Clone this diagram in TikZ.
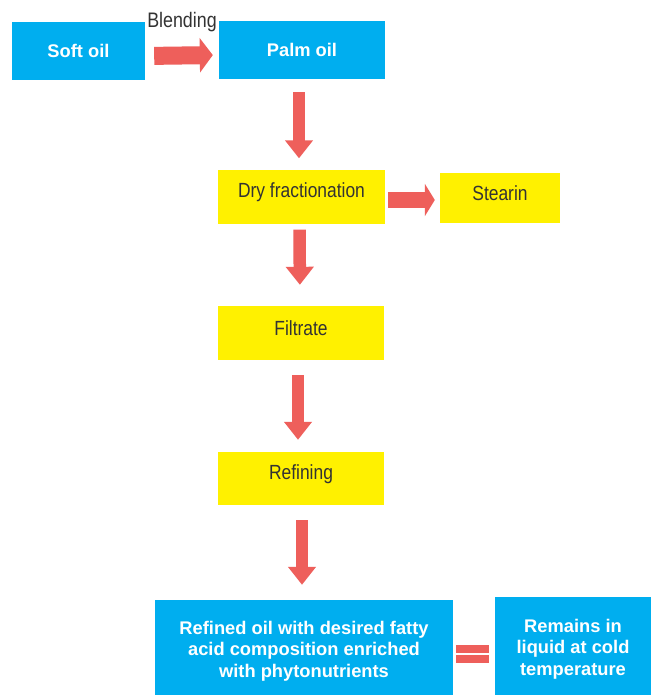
\documentclass[tikz,border=0pt]{standalone}
\usepackage{fontspec}
\setmainfont{Liberation Sans}
\newfontfamily\narrow[FakeStretch=0.85]{Liberation Sans}
\usetikzlibrary{arrows.meta}
\definecolor{boxblue}{HTML}{00AEEF}
\definecolor{boxyellow}{HTML}{FFF100}
\definecolor{arrowred}{HTML}{EE5F5B}
\definecolor{textgray}{HTML}{333333}
\newcommand{\uptext}[1]{\raisebox{4.5pt}[\height][\depth]{#1}}
\tikzset{
  bluebox/.style={fill=boxblue, draw=none, inner sep=0pt, text=white, font=\fontsize{18.3}{21.5}\selectfont\bfseries, align=center},
  yellowbox/.style={fill=boxyellow, draw=none, inner sep=0pt, text=textgray, font=\narrow\fontsize{20.5}{22}\selectfont},
  fatv/.style={draw=arrowred, line width=12.5pt, -{Triangle[length=18pt,width=27pt,fill=arrowred]}},
  fath/.style={draw=arrowred, line width=16pt, -{Triangle[length=10pt,width=32pt,fill=arrowred]}},
  fatb/.style={draw=arrowred, line width=18pt, -{Triangle[length=13pt,width=34pt,fill=arrowred]}},
}
\begin{document}
\begin{tikzpicture}[x=1pt,y=-1pt]
\useasboundingbox (0,0) rectangle (651,695);
\fill[white] (0,0) rectangle (651,695);
% boxes
\node[bluebox, minimum width=133pt, minimum height=58pt] (soft) at (78.5,51) {Soft oil};
\node[bluebox, minimum width=166pt, minimum height=58pt] (palm) at (302,50) {Palm oil};
\node[yellowbox, minimum width=167pt, minimum height=54pt] (dry) at (301.5,196.5) {\uptext{Dry fractionation}};
\node[yellowbox, minimum width=120pt, minimum height=50pt] (stearin) at (500,198) {\uptext{Stearin}};
\node[yellowbox, minimum width=166pt, minimum height=54pt] (filtrate) at (301,333) {\uptext{Filtrate}};
\node[yellowbox, minimum width=166pt, minimum height=53pt] (refining) at (301,478.5) {\uptext{Refining}};
\node[bluebox, minimum width=298pt, minimum height=102pt] (refined) at (304,651) {Refined oil with desired fatty\\acid composition enriched\\with phytonutrients};
\node[bluebox, minimum width=156pt, minimum height=104pt] (remains) at (573,649) {Remains in\\liquid at cold\\temperature};
% label
\node[text=textgray, font=\narrow\fontsize{21}{22}\selectfont, inner sep=0pt] (blend) at (182,22) {Blending};
% arrows
\draw[fatb, shorten <=9pt, shorten >=6pt] ([yshift=-5pt]soft.east) -- ([yshift=-5pt]palm.west);
\draw[fatv, shorten <=13pt, shorten >=11pt] ([xshift=-3pt]palm.south) -- ([xshift=-2.5pt]dry.north);
\draw[fath, shorten <=3pt, shorten >=5pt] (dry.east |- 0,200) -- (stearin.west |- 0,200);
\draw[fatv, shorten <=6pt, shorten >=21pt] ([xshift=-2pt]dry.south) -- ([xshift=-1pt]filtrate.north);
\draw[fatv, shorten <=15pt, shorten >=12pt] ([xshift=-3pt]filtrate.south) -- ([xshift=-3pt]refining.north);
\draw[fatv, shorten <=15pt, shorten >=15pt] ([xshift=1pt]refining.south) -- ([xshift=1pt]refining.south |- refined.north);
% equals sign
\fill[arrowred] (456,645) rectangle (489,653);
\fill[arrowred] (456,655) rectangle (489,663);
\end{tikzpicture}
\end{document}
